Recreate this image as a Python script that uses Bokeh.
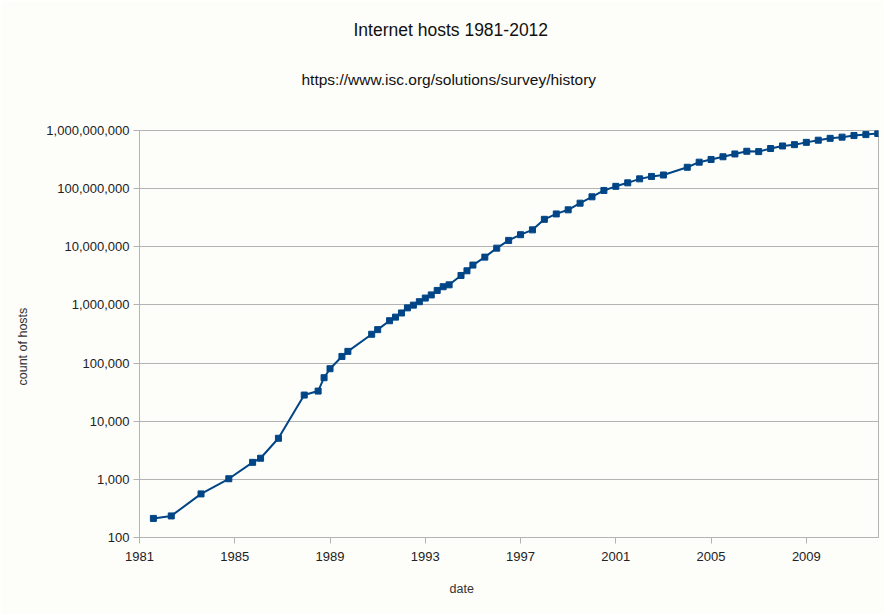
from bokeh.plotting import figure
from bokeh.models import (ColumnDataSource, FixedTicker, NumeralTickFormatter,
                          Range1d, Title, CustomJSTickFormatter)
from bokeh.embed import file_html
from bokeh.resources import INLINE

# ---- data (ISC Internet Domain Survey host counts) ----
dates = ["1981-08", "1982-05", "1983-08", "1984-10", "1985-10", "1986-02",
         "1986-11", "1987-12", "1988-07", "1988-10", "1989-01", "1989-07",
         "1989-10", "1990-10", "1991-01", "1991-07", "1991-10", "1992-01",
         "1992-04", "1992-07", "1992-10", "1993-01", "1993-04", "1993-07",
         "1993-10", "1994-01", "1994-07", "1994-10", "1995-01", "1995-07",
         "1996-01", "1996-07", "1997-01", "1997-07", "1998-01", "1998-07",
         "1999-01", "1999-07", "2000-01", "2000-07", "2001-01", "2001-07",
         "2002-01", "2002-07", "2003-01", "2004-01", "2004-07", "2005-01",
         "2005-07", "2006-01", "2006-07", "2007-01", "2007-07", "2008-01",
         "2008-07", "2009-01", "2009-07", "2010-01", "2010-07", "2011-01",
         "2011-07", "2012-01"]
hosts = [213, 235, 562, 1024, 1961, 2308,
         5089, 28174, 33000, 56000, 80000, 130000,
         159000, 313000, 376000, 535000, 617000, 727000,
         890000, 992000, 1136000, 1313000, 1486000, 1776000,
         2056000, 2217000, 3212000, 3864000, 4852000, 6642000,
         9472000, 12881000, 16146000, 19540000, 29670000, 36739000,
         43230000, 56218000, 72398092, 93047785, 109574429, 125888197,
         147344723, 162128493, 171638297, 233101481, 285139107, 317646084,
         353284187, 394991609, 439286364, 433193199, 489774269, 541677360,
         570937778, 625226456, 681064561, 732740444, 768913036, 818374269,
         849869781, 888239420]
x_ticks = [1981, 1985, 1989, 1993, 1997, 2001, 2005, 2009]
y_ticks = [100, 1000, 10000, 100000, 1000000, 10000000, 100000000, 1000000000]

title_text = "Internet hosts 1981-2012"
subtitle_text = "https://www.isc.org/solutions/survey/history"
x_title = "date"
y_title = "count of hosts"

years = [int(d[:4]) + (int(d[5:7]) - 1) / 12 for d in dates]
src = ColumnDataSource(dict(x=years, y=hosts))

FONT = "Liberation Sans"
GRID = "#b3b3b3"
BG = "#fdfdfa"
BLUE = "#004586"

p = figure(width=884, height=614, output_backend="svg", toolbar_location=None,
           y_axis_type="log",
           x_range=Range1d(1981.0, 2012.03), y_range=Range1d(100, 1e9),
           min_border_left=138, min_border_right=6, min_border_top=130,
           min_border_bottom=77)
p.title_location = None
p.background_fill_color = BG
p.border_fill_color = BG
p.outline_line_color = GRID

p.line("x", "y", source=src, line_color=BLUE, line_width=2)
p.scatter("x", "y", source=src, marker="square", size=6,
          fill_color=BLUE, line_color=BLUE)

# axes
p.xaxis.ticker = FixedTicker(ticks=x_ticks)
p.xaxis.formatter = CustomJSTickFormatter(code="return String(Math.round(tick));")
p.yaxis.ticker = FixedTicker(ticks=y_ticks)
p.yaxis.formatter = NumeralTickFormatter(format="0,0")
for ax in (p.xaxis, p.yaxis):
    ax.axis_line_color = GRID
    ax.major_tick_line_color = GRID
    ax.minor_tick_line_color = None
    ax.major_tick_in = 0
    ax.major_tick_out = 6
    ax.major_label_text_font = FONT
    ax.major_label_text_font_size = "13px"
    ax.major_label_text_color = "#222222"
p.yaxis.major_label_standoff = 4
p.xaxis.major_label_standoff = 8

p.xgrid.grid_line_color = None
p.ygrid.grid_line_color = GRID
p.ygrid.grid_line_width = 1

# titles: panels above are stacked outward from the frame
p.add_layout(Title(text=" ", text_font=FONT, text_font_size="10px",
                   standoff=13), "above")  # spacing between frame and subtitle
p.add_layout(Title(text=subtitle_text, text_font=FONT, text_font_size="15.5px",
                   text_font_style="normal", text_color="#111111",
                   align="left", offset=162, standoff=34), "above")
p.add_layout(Title(text=title_text, text_font=FONT, text_font_size="17.5px",
                   text_font_style="normal", text_color="#111111",
                   align="left", offset=214, standoff=24), "above")
p.add_layout(Title(text=x_title, text_font=FONT, text_font_size="12.5px",
                   text_font_style="normal", text_color="#333333",
                   align="left", offset=310, standoff=33), "below")
p.add_layout(Title(text=y_title, text_font=FONT, text_font_size="12.5px",
                   text_font_style="normal", text_color="#333333",
                   align="left", offset=152, standoff=27), "left")

open("out.html", "w").write(file_html(p, INLINE))
